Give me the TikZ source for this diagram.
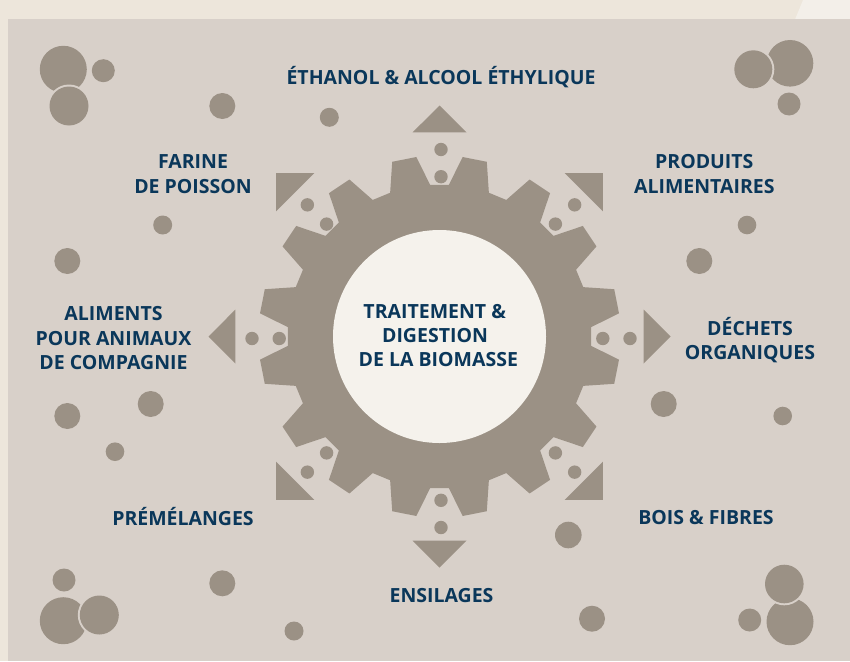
\documentclass[tikz,border=0pt]{standalone}
\usepackage{fontspec}
\setmainfont{Open Sans}
\definecolor{outer}{RGB}{237,230,219}
\definecolor{outerlight}{RGB}{243,239,233}
\definecolor{panel}{RGB}{216,208,201}
\definecolor{gearc}{RGB}{155,145,133}
\definecolor{hubc}{RGB}{245,242,236}
\definecolor{ink}{RGB}{10,55,90}
\begin{document}
\begin{tikzpicture}[x=1pt,y=-1pt,
  bub/.style={fill=gearc},
  gap/.style={fill=panel},
  lbl/.style={font=\fontsize{19.5}{24.5}\selectfont\bfseries, text=ink, anchor=base, inner sep=0pt}]
\useasboundingbox (0,0) rectangle (850,661);
\fill[outer] (0,0) rectangle (850,661);
\fill[outerlight] (795,19.5) -- (803,0) -- (850,0) -- (850,19.5) -- cycle;
\fill[panel] (8,19.5) rectangle (850,661);

% gear
\begin{scope}[shift={(439.5,336.5)}]
\fill[gearc] (3.55:152) \foreach \k [evaluate=\k as \a using 11.25+22.5*\k] in {0,...,15} { -- (\a-7.7:152) -- (\a-3.9:181) -- (\a+3.9:181) -- (\a+7.7:152) } -- cycle;
\foreach \d in {0,45,...,315}
  \fill[gearc] (\d:231) -- (\d+7.54:205.8) -- (\d-7.54:205.8) -- cycle;
\end{scope}
\begin{scope}[shift={(441,338.5)}]
\foreach \d in {0,45,...,315}
  \fill[gearc] (\d:161.8) circle[radius=6.7pt] (\d:189) circle[radius=6.7pt];
\end{scope}
\node[circle, fill=hubc, minimum size=213pt, inner sep=0pt] (hub) at (439.5,336.5) {};

% bubbles: top-left
\fill[bub] (63.3,69.3) circle[radius=23.5pt];
\fill[bub] (103.3,70.7) circle[radius=11.5pt];
\fill[gap] (69,106) circle[radius=21.5pt];
\fill[bub] (69,106) circle[radius=19.5pt];
% top-right
\fill[bub] (790,63.3) circle[radius=23.3pt];
\fill[gap] (753.3,69.3) circle[radius=21pt];
\fill[bub] (753.3,69.3) circle[radius=19pt];
\fill[bub] (789,104) circle[radius=11.5pt];
% bottom-left
\fill[bub] (64,580) circle[radius=11.5pt];
\fill[bub] (63.3,620.7) circle[radius=23.5pt];
\fill[gap] (99.3,615) circle[radius=21.5pt];
\fill[bub] (99.3,615) circle[radius=19.5pt];
% bottom-right
\fill[bub] (790,621.7) circle[radius=23.5pt];
\fill[gap] (784.3,584) circle[radius=21.3pt];
\fill[bub] (784.3,584) circle[radius=19.3pt];
\fill[bub] (749.7,620) circle[radius=11.5pt];
% single dots
\foreach \p/\r in {{(222.3,106)}/13, {(329.3,117.3)}/9.5, {(162.7,225)}/9.5, {(67.3,261)}/13,
  {(747,225)}/9.3, {(699.3,261)}/13, {(150.7,404)}/13, {(67.3,416)}/13, {(115,451.7)}/9.3,
  {(663.7,404)}/13, {(782.7,416)}/9.3, {(568.3,535)}/13.3, {(222.3,583.3)}/13,
  {(294,631)}/9.5, {(592,618.7)}/13}
  \fill[bub] \p circle[radius=\r pt];

% labels
\node[lbl] (eth) at (441,84) {ÉTHANOL \& ALCOOL ÉTHYLIQUE};
\node[lbl] (far1) at (193,168.7) {FARINE};
\node[lbl] (far2) at (193,193.7) {DE POISSON};
\node[lbl] (pro1) at (704.3,168.7) {PRODUITS};
\node[lbl] (pro2) at (704.3,193.7) {ALIMENTAIRES};
\node[lbl] (ali1) at (113.5,320.3) {ALIMENTS};
\node[lbl] (ali2) at (113.5,345.3) {POUR ANIMAUX};
\node[lbl] (ali3) at (113.5,369.3) {DE COMPAGNIE};
\node[lbl] (dec1) at (750,335) {DÉCHETS};
\node[lbl] (dec2) at (750,359.3) {ORGANIQUES};
\node[lbl] (pre) at (183,525.3) {PRÉMÉLANGES};
\node[lbl] (bois) at (706,524.7) {BOIS \& FIBRES};
\node[lbl] (ens) at (441.5,602) {ENSILAGES};
\node[lbl] (tr1) at (434.7,318) {TRAITEMENT \&};
\node[lbl] (tr2) at (435,342) {DIGESTION};
\node[lbl] (tr3) at (438.3,366.3) {DE LA BIOMASSE};
\end{tikzpicture}
\end{document}
